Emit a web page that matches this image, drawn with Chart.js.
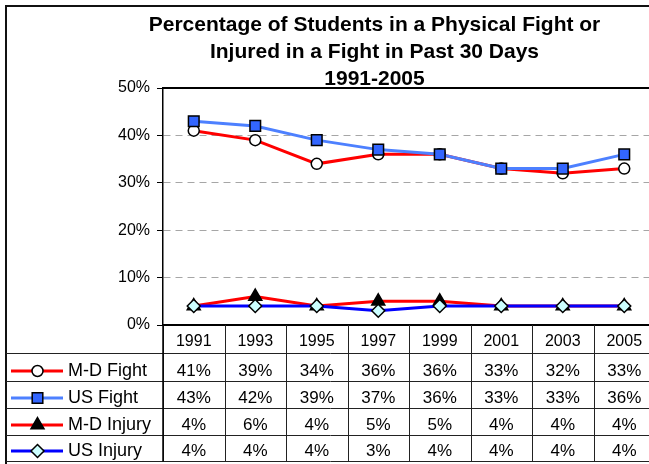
<!DOCTYPE html>
<html>
<head>
<meta charset="utf-8">
<script src="https://cdn.jsdelivr.net/npm/chart.js"></script>
<style>
  html, body { margin: 0; padding: 0; background: #fff; overflow: hidden; }
  #wrap { position: relative; width: 649px; height: 464px; overflow: hidden; }
  #chart { position: absolute; left: 0; top: 0; }
</style>
</head>
<body>
<div id="wrap"><canvas id="chart" width="664" height="464"></canvas></div>
<script>
// ────────────────────────────────────────────────
// DATA
// ────────────────────────────────────────────────
const years = ["1991", "1993", "1995", "1997", "1999", "2001", "2003", "2005"];
const mdFight = [41, 39, 34, 36, 36, 33, 32, 33];
const usFight = [43, 42, 39, 37, 36, 33, 33, 36];
const mdInjury = [4, 6, 4, 5, 5, 4, 4, 4];
const usInjury = [4, 4, 4, 3, 4, 4, 4, 4];
const seriesNames = ["M-D Fight", "US Fight", "M-D Injury", "US Injury"];
const titleLines = [
  "Percentage of Students in a Physical Fight or",
  "Injured in a Fight in Past 30 Days",
  "1991-2005"
];

const FONT = "'Liberation Sans', Arial, Helvetica, sans-serif";

// ────────────────────────────────────────────────
// SERIES
// ────────────────────────────────────────────────
const common = {
  borderWidth: 3,
  pointBorderColor: "#000000",
  pointBorderWidth: 1.5,
  tension: 0,
  fill: false
};

const datasets = [
  { ...common, label: seriesNames[0], data: mdFight, borderColor: "#ff0000",
    pointStyle: "circle", pointRadius: 5.5, pointBackgroundColor: "#ffffff", order: 3 },
  { ...common, label: seriesNames[1], data: usFight, borderColor: "#4d80ff",
    pointStyle: "rect", pointRadius: 7.5, pointBackgroundColor: "#3366ff", order: 2 },
  { ...common, label: seriesNames[2], data: mdInjury, borderColor: "#ff0000",
    pointStyle: "triangle", pointRadius: 7.5, pointBackgroundColor: "#000000", order: 1 },
  { ...common, label: seriesNames[3], data: usInjury, borderColor: "#0000ff",
    pointStyle: "rectRot", pointRadius: 6.5, pointBackgroundColor: "#ccffff", order: 0 }
];

// ────────────────────────────────────────────────
// TITLE + DATA TABLE (drawn after the chart)
// ────────────────────────────────────────────────
const rowLines = [353.5, 381.5, 408.5, 435.5, 461.5];

function marker(ctx, ds, x, y) {
  ctx.save();
  ctx.fillStyle = ds.pointBackgroundColor;
  ctx.strokeStyle = ds.pointBorderColor;
  ctx.lineWidth = ds.pointBorderWidth;
  if (Chart.helpers && Chart.helpers.drawPoint) {
    Chart.helpers.drawPoint(ctx, {
      pointStyle: ds.pointStyle, rotation: 0,
      radius: ds.pointRadius, borderWidth: ds.pointBorderWidth
    }, x, y);
  } else {
    ctx.beginPath();
    ctx.arc(x, y, ds.pointRadius, 0, Math.PI * 2);
    ctx.fill();
    ctx.stroke();
  }
  ctx.restore();
}

const tablePlugin = {
  id: "tablePlugin",
  afterDraw(chart) {
    const ctx = chart.ctx;
    const area = chart.chartArea;
    const xs = chart.scales.x;
    const colW = (area.right - area.left) / years.length;

    ctx.save();

    // title
    ctx.fillStyle = "#000";
    ctx.textAlign = "center";
    ctx.textBaseline = "alphabetic";
    ctx.font = "bold 21px " + FONT;
    [31, 58, 85].forEach((b, i) => ctx.fillText(titleLines[i], 374.5, b));

    // outer frame
    ctx.strokeStyle = "#111";
    ctx.lineWidth = 2;
    ctx.beginPath();
    ctx.moveTo(6, 480);
    ctx.lineTo(6, 6);
    ctx.lineTo(700, 6);
    ctx.stroke();

    // top border of plot area
    ctx.strokeStyle = "#000";
    ctx.lineWidth = 2;
    ctx.beginPath();
    ctx.moveTo(area.left, area.top);
    ctx.lineTo(area.right, area.top);
    ctx.stroke();

    // table grid
    ctx.strokeStyle = "#222";
    ctx.lineWidth = 1;
    for (let i = 0; i <= years.length; i++) {
      const x = Math.round(area.left + i * colW) + 0.5;
      ctx.beginPath();
      ctx.moveTo(x, area.bottom);
      ctx.lineTo(x, rowLines[rowLines.length - 1]);
      ctx.stroke();
    }
    rowLines.forEach(y => {
      ctx.beginPath();
      ctx.moveTo(6, y);
      ctx.lineTo(area.right, y);
      ctx.stroke();
    });
    ctx.strokeStyle = "#000";
    ctx.lineWidth = 1.5;
    ctx.beginPath();
    ctx.moveTo(area.left, area.bottom);
    ctx.lineTo(area.left, rowLines[rowLines.length - 1]);
    ctx.stroke();

    // year labels
    ctx.fillStyle = "#000";
    ctx.textAlign = "center";
    ctx.font = "16px " + FONT;
    years.forEach((y, i) => ctx.fillText(y, xs.getPixelForValue(i), 346));

    // rows: legend key + values
    chart.data.datasets.forEach((ds, r) => {
      const base = rowLines[r + 1] - 5.5;
      const ly = base - 5;

      ctx.strokeStyle = ds.borderColor;
      ctx.lineWidth = 3;
      ctx.beginPath();
      ctx.moveTo(11, ly);
      ctx.lineTo(63, ly);
      ctx.stroke();
      marker(ctx, ds, 37.5, ly);

      ctx.fillStyle = "#000";
      ctx.textAlign = "left";
      ctx.font = "18px " + FONT;
      ctx.fillText(ds.label, 68, base);

      ctx.textAlign = "center";
      ctx.font = "17px " + FONT;
      ds.data.forEach((v, i) => ctx.fillText(v + "%", xs.getPixelForValue(i), base));
    });

    ctx.restore();
  }
};

// ────────────────────────────────────────────────
// CHART
// ────────────────────────────────────────────────
new Chart(document.getElementById("chart"), {
  type: "line",
  data: { labels: years, datasets },
  options: {
    responsive: false,
    devicePixelRatio: 1,
    animation: false,
    events: [],
    layout: { padding: { top: 88, right: 7, left: 0, bottom: 0 } },
    plugins: { legend: { display: false }, title: { display: false }, tooltip: { enabled: false } },
    scales: {
      x: {
        type: "category",
        offset: true,
        grid: { display: false },
        border: { display: true, color: "#000", width: 2 },
        ticks: { display: false },
        afterFit: s => { s.height = 139; }
      },
      y: {
        min: 0,
        max: 50,
        ticks: {
          stepSize: 10,
          color: "#000",
          padding: 7,
          font: { family: FONT, size: 16 },
          callback: v => v + "%"
        },
        grid: {
          color: c => (c.tick.value === 0 || c.tick.value === 50) ? "rgba(0,0,0,0)" : "#a6a6a6",
          tickColor: "#000",
          tickLength: 6,
          lineWidth: 1
        },
        border: { color: "#000", width: 1.5, dash: [7, 5] },
        afterFit: s => { s.width = 163; }
      }
    }
  },
  plugins: [tablePlugin]
});
</script>
</body>
</html>
